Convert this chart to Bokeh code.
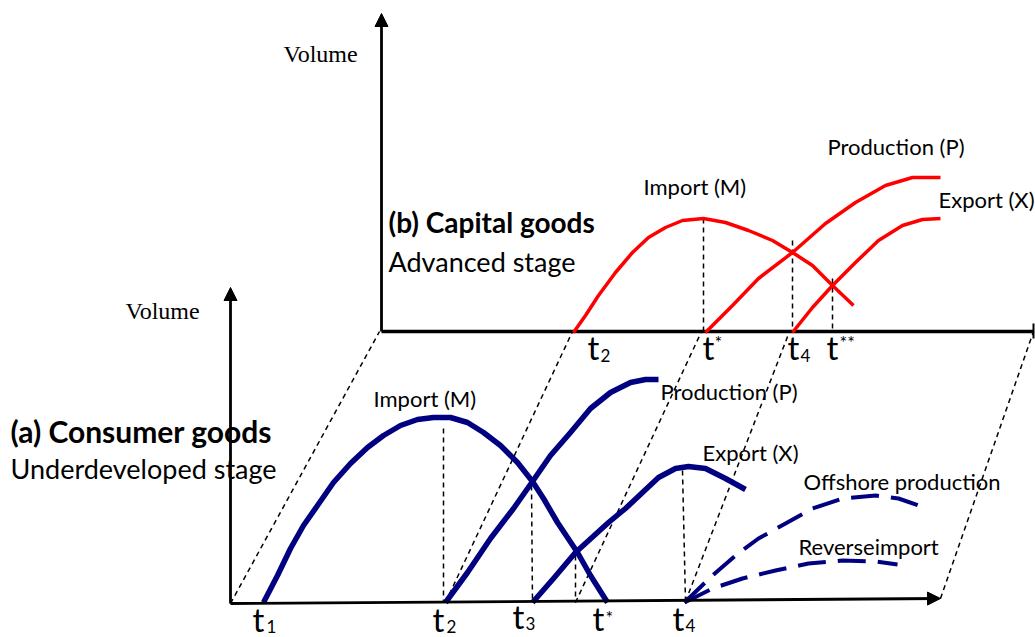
from bokeh.plotting import figure
from bokeh.models import Range1d, Arrow, NormalHead
from bokeh.core.properties import value
from bokeh.embed import file_html
from bokeh.resources import INLINE

W, H = 1035, 637

# ---------------- data (diagram units; y grows downward) ----------------
# Panel (a) consumer goods – underdeveloped stage (blue)
a_import_x = [263, 277, 290, 303, 317, 333, 350, 367, 383, 400, 417, 433, 450, 467,
              483, 500, 517, 532, 543, 557, 577, 590, 607]
a_import_y = [602, 575, 548, 525, 505, 482, 463, 447, 435, 425, 419, 417, 417, 422,
              432, 445, 462, 481, 498, 522, 552, 575, 602]
a_prod_x = [445, 467, 490, 513, 532, 550, 570, 590, 610, 630, 645, 658]
a_prod_y = [602, 572, 538, 508, 481, 455, 432, 408, 392, 382, 379, 379]
a_export_x = [532, 553, 575, 608, 625, 642, 658, 675, 688, 705, 725, 745]
a_export_y = [602, 578, 552, 522, 508, 492, 477, 468, 466, 468, 478, 489]
a_offshore_x = [684, 712, 735, 758, 785, 812, 842, 875, 898, 918]
a_offshore_y = [602, 575, 555, 538, 523, 508, 498, 495, 498, 505]
a_reverse_x = [684, 712, 742, 775, 808, 842, 875, 897]
a_reverse_y = [602, 588, 578, 570, 563, 560, 561, 564]

# Panel (b) capital goods – advanced stage (red)
b_import_x = [573, 585, 598, 615, 632, 648, 665, 682, 703, 725, 748, 772, 792, 812,
              832, 853]
b_import_y = [332, 315, 295, 272, 252, 237, 227, 220, 218, 222, 230, 240, 252, 265,
              285, 305]
b_prod_x = [705, 732, 758, 792, 825, 855, 885, 912, 940]
b_prod_y = [332, 305, 278, 252, 223, 202, 185, 177, 177]
b_export_x = [792, 812, 832, 855, 878, 902, 922, 940]
b_export_y = [332, 307, 285, 262, 240, 225, 219, 218]

# axes (origin -> end)
a_axis_v = [(230, 603), (230, 287)]
a_axis_h = [(230, 603), (940, 598)]
b_axis_v = [(381, 331), (381, 13)]
b_axis_h = [(381, 331), (1033, 331)]
b_axis_end_tick = [(1033, 323), (1033, 338)]

# vertical dashed drop lines
drop_x0 = [443, 531, 575, 682, 703, 792, 832]
drop_y0 = [428, 485, 555, 470, 218, 240, 278]
drop_x1 = [443, 532, 575, 685, 703, 792, 832]
drop_y1 = [602, 602, 602, 601, 331, 331, 331]

# projection lines from panel (a) to panel (b)
proj_x0 = [230, 445, 575, 685, 940]
proj_y0 = [603, 602, 602, 601, 598]
proj_x1 = [379, 572, 701, 789, 1033]
proj_y1 = [331, 331, 331, 331, 331]

# texts
volume_labels = ["Volume", "Volume"]
volume_x = [320, 162]
volume_y = [53, 310]

title_bold = ["(b) Capital goods", "(a) Consumer goods"]
title_bold_x = [388, 10]
title_bold_y = [221, 430]
title_bold_size = ["28px", "30px"]
title_sub = ["Advanced stage", "Underdeveloped stage"]
title_sub_x = [388, 10]
title_sub_y = [261, 468]

curve_labels = ["Import (M)", "Production (P)", "Export (X)",
                "Import (M)", "Production (P)", "Export (X)",
                "Offshore production", "Reverseimport"]
curve_label_x = [643, 827, 938, 373, 660, 702, 803, 798]
curve_label_y = [186, 146, 199, 398, 391, 452, 481, 546]

tick_t_x = [252, 432, 512, 592, 672, 587, 702, 787, 826]
tick_t_y = [618, 618, 615, 617, 617, 346, 346, 346, 346]
tick_sub = ["1", "2", "3", "4", "2", "4"]
tick_sub_x = [266, 446, 525, 685, 600, 800]
tick_sub_y = [626, 626, 623, 625, 355, 355]
tick_sup = ["*", "*", "**"]
tick_sup_x = [605, 714, 839]
tick_sup_y = [616, 341, 341]

BLUE = "#000080"
RED = "#FF0000"
LABEL_FONT = value("Lato")

p = figure(width=W, height=H, x_range=Range1d(0, W), y_range=Range1d(H, 0),
           output_backend="svg", toolbar_location=None,
           x_axis_location=None, y_axis_location=None, min_border=0)
p.grid.visible = False
p.outline_line_color = None
p.background_fill_color = "white"

# projection & drop lines
p.segment(proj_x0, proj_y0, proj_x1, proj_y1, line_color="black", line_width=1.5,
          line_dash="5 4")
p.segment(drop_x0, drop_y0, drop_x1, drop_y1, line_color="black", line_width=1.5,
          line_dash="5 4")

# axes
for (s, e) in [a_axis_v, a_axis_h, b_axis_v]:
    p.add_layout(Arrow(end=NormalHead(size=13, fill_color="black", line_color="black"),
                       x_start=s[0], y_start=s[1], x_end=e[0], y_end=e[1],
                       line_color="black", line_width=2.8))
p.line([b_axis_h[0][0], b_axis_h[1][0]], [b_axis_h[0][1], b_axis_h[1][1]],
       line_color="black", line_width=3.5)
p.line([b_axis_end_tick[0][0], b_axis_end_tick[1][0]],
       [b_axis_end_tick[0][1], b_axis_end_tick[1][1]], line_color="black", line_width=2)

# blue curves
for xs, ys in [(a_import_x, a_import_y), (a_prod_x, a_prod_y), (a_export_x, a_export_y)]:
    p.line(xs, ys, line_color=BLUE, line_width=5.5, line_join="round")
for xs, ys in [(a_offshore_x, a_offshore_y), (a_reverse_x, a_reverse_y)]:
    p.line(xs, ys, line_color=BLUE, line_width=4, line_dash="28 12", line_join="round")

# red curves
for xs, ys in [(b_import_x, b_import_y), (b_prod_x, b_prod_y), (b_export_x, b_export_y)]:
    p.line(xs, ys, line_color=RED, line_width=3.5, line_join="round")

# texts
p.text(volume_x, volume_y, text=volume_labels, text_font=value("Liberation Serif"),
       text_font_size="24px", text_align="center", text_baseline="middle", text_color="black")
for tx, ty, tt, ts in zip(title_bold_x, title_bold_y, title_bold, title_bold_size):
    p.text([tx], [ty], text=[tt], text_font=LABEL_FONT,
           text_font_size=ts, text_font_style="bold", text_align="left",
           text_baseline="middle", text_color="black")
p.text(title_sub_x, title_sub_y, text=title_sub, text_font=LABEL_FONT,
       text_font_size="27px", text_align="left", text_baseline="middle", text_color="black")
p.text(curve_label_x, curve_label_y, text=curve_labels, text_font=LABEL_FONT,
       text_font_size="22px", text_align="left", text_baseline="middle", text_color="black")
p.text(tick_t_x, tick_t_y, text=["t"] * len(tick_t_x), text_font=LABEL_FONT,
       text_font_size="33px", text_align="left", text_baseline="alphabetic", text_color="black")
p.text(tick_sub_x, tick_sub_y, text=tick_sub, text_font=LABEL_FONT,
       text_font_size="17px", text_align="left", text_baseline="alphabetic", text_color="black")
p.text(tick_sup_x, tick_sup_y, text=tick_sup, text_font=LABEL_FONT,
       text_font_size="18px", text_align="left", text_baseline="alphabetic", text_color="black")

open("out.html", "w").write(file_html(p, INLINE))
